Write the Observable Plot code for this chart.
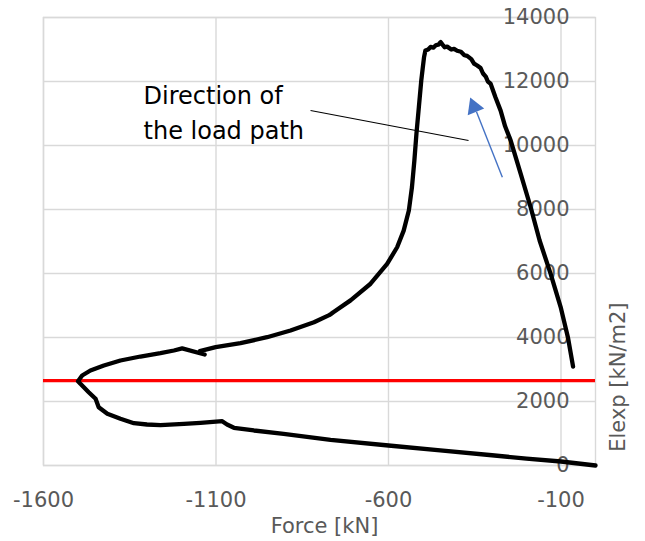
<!DOCTYPE html>
<html>
<head>
<meta charset="utf-8">
<script src="https://cdn.jsdelivr.net/npm/d3@7"></script>
<script src="https://cdn.jsdelivr.net/npm/@observablehq/plot@0.6"></script>
<style>
  html, body { margin: 0; padding: 0; background: #ffffff; }
</style>
</head>
<body>
<div id="chart"></div>
<script>
// Load path (Force [kN], Elexp [kN/m2]), in drawing order
const force = [
  -65, -80, -101, -130, -162, -188, -217, -246, -262, -275, -290, -304, -312, -318, -326, -333, -343,
  -352, -360, -372, -380, -390, -401, -410, -418, -430, -437, -444, -449, -455, -462, -470, -478,
  -485, -493, -497, -501, -505, -512, -519, -525, -532, -541, -556, -575, -604, -652, -710, -760,
  -766, -772, -816, -884, -952, -1029, -1101, -1147, -1133, -1198, -1222, -1261, -1319, -1377,
  -1425, -1464, -1488, -1500, -1493, -1469, -1449, -1440, -1415, -1377, -1338, -1300, -1261,
  -1193, -1145, -1082, -1068, -1048, -990, -904, -768, -600, -450, -300, -200, -100, 0
];
const elexp = [
  3090, 4010, 4950, 5990, 7030, 8070, 9120, 10160, 10600, 11090, 11510, 11930, 12000, 12150, 12250, 12420, 12500,
  12560, 12700, 12800, 12820, 12930, 12960, 13020, 13000, 13090, 13070, 13160, 13230, 13150, 13140, 13060, 13080,
  13000, 12970, 12760, 12400, 12030, 11200, 10370, 9530, 8700, 7970, 7340, 6820, 6300, 5680, 5160, 4790,
  4740, 4700, 4478, 4219, 4009, 3822, 3697, 3572, 3469, 3660, 3594, 3509, 3406, 3281,
  3125, 2969, 2812, 2634, 2553, 2291, 2084, 1822, 1615, 1459, 1322, 1281, 1259,
  1303, 1334, 1384, 1281, 1178, 1094, 991, 803, 625, 470, 320, 215, 125, 0
];

const xTicks = [-1600, -1100, -600, -100];
const yTicks = [0, 2000, 4000, 6000, 8000, 10000, 12000, 14000];
const limitLine = [2650];            // red horizontal reference line
const xTitle = ["Force [kN]"];
const yTitle = ["Elexp [kN/m2]"];
const noteText = ["Direction of\nthe load path"];
const noteLeader = [{x1: -826, y1: 11094, x2: -368, y2: 10156}];
const arrowShaft = [{x1: -270, y1: 9009, x2: -345, y2: 11053}];
const arrowHead = [{x: -352, y: 11200}];

const points = force.map((f, i) => ({force: f, elexp: elexp[i]}));

const tickColor = "#595959";
const gridColor = "#d9d9d9";

const chart = Plot.plot({
  width: 645,
  height: 541,
  marginLeft: 43,
  marginRight: 50,
  marginTop: 17,
  marginBottom: 76,
  x: {domain: [-1600, 0]},
  y: {domain: [0, 14000]},
  style: {fontFamily: "DejaVu Sans", fontSize: "21px", background: "#ffffff", color: "#000000"},
  marks: [
    Plot.gridX(xTicks, {stroke: gridColor, strokeOpacity: 1, strokeWidth: 1.4}),
    Plot.gridY(yTicks, {stroke: gridColor, strokeOpacity: 1, strokeWidth: 1.4}),
    Plot.frame({stroke: gridColor, strokeWidth: 1.4}),
    Plot.axisX(xTicks, {tickSize: 0, tickPadding: 27, fill: tickColor, label: null, tickFormat: d => String(d)}),
    Plot.axisY(yTicks, {anchor: "right", tickSize: 0, tickPadding: 0, textAnchor: "end", dx: -26, fill: tickColor, label: null, tickFormat: d => String(d)}),
    Plot.ruleY(limitLine, {stroke: "#ff0000", strokeWidth: 3.2}),
    Plot.line(points, {x: "force", y: "elexp", stroke: "#000000", strokeWidth: 4.3, strokeLinejoin: "round", strokeLinecap: "round"}),
    Plot.link(noteLeader, {x1: "x1", y1: "y1", x2: "x2", y2: "y2", stroke: "#000000", strokeWidth: 1.1}),
    Plot.link(arrowShaft, {x1: "x1", y1: "y1", x2: "x2", y2: "y2", stroke: "#4472c4", strokeWidth: 1.4}),
    Plot.dot(arrowHead, {x: "x", y: "y", symbol: "triangle", r: 6.6, rotate: -22, fill: "#4472c4", stroke: "none"}),
    Plot.text(noteText, {x: -1310, y: 11100, text: d => d, textAnchor: "start", lineAnchor: "middle", lineHeight: 1.45, fontSize: 24, fill: "#000000"}),
    Plot.text(xTitle, {frameAnchor: "bottom", text: d => d, lineAnchor: "bottom", dx: 5, dy: 67, fill: tickColor, fontSize: 21}),
    Plot.text(yTitle, {frameAnchor: "right", text: d => d, rotate: -90, lineAnchor: "middle", dx: 23, dy: 61, fill: tickColor, fontSize: 21})
  ]
});

document.getElementById("chart").appendChild(chart);
</script>
</body>
</html>
